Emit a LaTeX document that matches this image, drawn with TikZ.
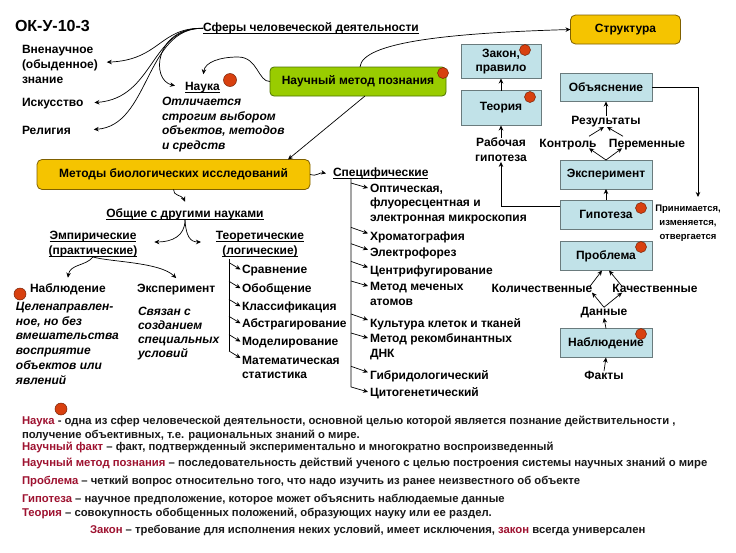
\documentclass[tikz,border=0pt]{standalone}
\usepackage{fontspec}
\setmainfont{Liberation Sans}
\usetikzlibrary{arrows.meta,calc}
\definecolor{grnfill}{HTML}{99CC00}
\definecolor{grnline}{HTML}{4D7300}
\definecolor{orfill}{HTML}{F5C400}
\definecolor{orline}{HTML}{7F6000}
\definecolor{bluefill}{HTML}{C1E2E8}
\definecolor{blueline}{HTML}{6A7B7D}
\definecolor{dotred}{HTML}{D8400F}
\definecolor{termred}{HTML}{9E1230}
\newcommand{\trm}[1]{\textcolor{termred}{#1}}
\newcommand{\ulin}[1]{\leavevmode\setbox0\hbox{#1}\rlap{\rule[-2.6pt]{\wd0}{0.8pt}}\box0}
\begin{document}
\begin{tikzpicture}[x=1pt,y=-1pt,
  every node/.style={inner sep=0pt, outer sep=0pt},
  lbl/.style={font=\bfseries\fontsize{12}{15}\selectfont, align=left},
  clbl/.style={font=\bfseries\fontsize{12}{15}\selectfont, align=center},
  ital/.style={font=\bfseries\itshape\fontsize{12}{14.8}\selectfont, align=left},
  box/.style={draw, line width=0.8pt, font=\bfseries\fontsize{12}{14}\selectfont, align=center},
  bluebox/.style={box, draw=blueline, fill=bluefill, minimum width=92pt, minimum height=29pt},
  orbox/.style={box, draw=orline, fill=orfill, rounded corners=5pt},
  arr/.style={-{Stealth[length=5pt,width=4.5pt]}, line width=0.7pt},
  ln/.style={line width=0.7pt},
  dot/.style={circle, fill=dotred, draw=dotred!55!black, line width=0.5pt, minimum size=11pt},
  defn/.style={font=\bfseries\fontsize{11.3}{13}\selectfont, anchor=base west, text=black!90}
]
\fill[white] (0,0) rectangle (736,552);
\useasboundingbox (0,0) rectangle (736,552);

% ---------- top left ----------
\node[font=\bfseries\fontsize{16}{18}\selectfont, anchor=base west] (title) at (15,31) {ОК-У-10-3};
\node[lbl, anchor=base] (sf) at (311,31.5) {\ulin{Сферы человеческой деятельности}};
\node[lbl, anchor=north west] (vn) at (22,45) {Вненаучное\\(обыденное)\\знание};
\node[lbl, anchor=base west] (isk) at (22,106.5) {Искусство};
\node[lbl, anchor=base west] (rel) at (22,134.5) {Религия};
\node[lbl, anchor=base west] (nauka) at (185,90.5) {\ulin{Наука}};
\node[dot, minimum size=13pt] (d0) at (230,80) {};
\node[ital, anchor=north west] (otl) at (162,97) {Отличается\\строгим выбором\\объектов, методов\\и средств};

\draw[arr] (sf.west) .. controls (160,27) and (160,60) .. ($(vn.east)+(9,-2)$);
\draw[arr] (sf.west) .. controls (150,27) and (155,98) .. ($(isk.east)+(11,-1)$);
\draw[arr] (sf.west) .. controls (145,27) and (150,126) .. ($(rel.east)+(23,-1)$);
\draw[arr] (sf.west) .. controls (155,27) and (150,80) .. ($(nauka.west)+(-10,-2)$);

% ---------- green box ----------
\node[box, draw=grnline, fill=grnfill, rounded corners=4pt, minimum width=176pt, minimum height=29pt] (grn) at (358,81.5) {Научный метод познания};
\node[dot] (d1) at (443,73) {};
\node[orbox, minimum width=110pt, minimum height=29pt] (str) at (625.5,29.5) {Структура};
\node[orbox, minimum width=273pt, minimum height=30pt] (meth) at (173.5,174.5) {Методы биологических исследований};

\draw[arr] (grn.west) .. controls (258,82) and (258,57) .. (238,57) .. controls (220,57) and (205,62) .. ($(nauka.north)+(1,-8)$);
\draw[arr] ($(grn.north)+(2,0)$) .. controls (362,42) and (450,33) .. (str.west);
\draw[arr] ($(grn.south)+(7,0)$) -- ($(meth.north east)+(-22,0)$);

% ---------- right column ----------
\node[bluebox, minimum width=80pt, minimum height=34pt] (zak) at (501,61.5) {Закон,\\правило};
\node[dot] (d2) at (525,50) {};
\node[bluebox, minimum width=80pt, minimum height=35pt] (teo) at (501,108) {Теория};
\node[dot] (d3) at (530,97) {};
\node[bluebox, minimum height=28pt] (obj) at (606,87.5) {Объяснение};
\node[bluebox] (exp) at (606,174.5) {Эксперимент};
\node[bluebox] (gip) at (606,214.5) {Гипотеза};
\node[dot] (d4) at (641,208) {};
\node[bluebox] (prob) at (606,256) {Проблема};
\node[dot] (d5) at (641,247) {};
\node[bluebox] (nabl) at (606,343) {Наблюдение};
\node[dot] (d6) at (641,334) {};

\node[clbl, anchor=north] (rg) at (501,138) {Рабочая\\гипотеза};
\node[clbl, anchor=base] (res) at (606,124.5) {Результаты};
\node[clbl, anchor=base] (ktr) at (568,147.5) {Контроль};
\node[clbl, anchor=base] (per) at (647,147.5) {Переменные};
\node[font=\bfseries\fontsize{9.5}{14}\selectfont, align=center, anchor=north] (prin) at (688,205) {Принимается,\\изменяется,\\отвергается};
\coordinate (pa) at (698,197);
\node[clbl, anchor=base] (kol) at (542,292.5) {Количественные};
\node[clbl, anchor=base] (kach) at (655,292.5) {Качественные};
\node[clbl, anchor=base] (dan) at (604,315.5) {Данные};
\node[clbl, anchor=base] (fak) at (604,379.5) {Факты};

\draw[arr] (teo.north) -- (zak.south);
\draw[arr] (rg.north) -- (teo.south);
\draw[arr] ([yshift=8pt]gip.west) -| (rg.south);
\draw[arr] (obj.east) -| (pa);
\draw[arr] (gip.north) -- (exp.south);
\draw[arr] (exp.north) -- ($(ktr.north)+(21,9)$);
\draw[arr] (exp.north) -- ($(per.north)+(-25,9)$);
\draw[arr] ($(ktr.north)+(21,-3)$) -- ($(res.south)+(-2,0)$);
\draw[arr] ($(per.north)+(-24,-3)$) -- ($(res.south)+(1,0)$);
\draw[arr] (res.north) -- (obj.south);
\draw[arr] (nabl.north) -- (dan.south);
\draw[arr] (dan.north) -- ($(kol.south)+(50,0)$);
\draw[arr] (dan.north) -- ($(kach.south)+(-33,0)$);
\draw[arr] ($(kol.north)+(48,2)$) -- ($(prob.south)+(-4,0)$);
\draw[arr] ($(kach.north)+(-33,2)$) -- ($(prob.south)+(3,0)$);
\draw[arr] (fak.north) -- (nabl.south);

% ---------- methods tree ----------
\node[lbl, anchor=base] (obs) at (185,217.5) {\ulin{Общие с другими науками}};
\node[clbl, anchor=north] (emp) at (93,231) {\ulin{Эмпирические}\\\ulin{(практические)}};
\node[clbl, anchor=north] (teor) at (260,231) {\ulin{Теоретические}\\\ulin{(логические)}};
\node[lbl, anchor=base west] (spec) at (333,176.5) {\ulin{Специфические}};

\draw[arr] (meth.south) .. controls (173,196) and (182,195) .. ($(obs.north)+(0,-7)$);
\draw[arr] (meth.east) .. controls (316,177) and (320,172) .. ($(spec.west)+(-7,0)$);
\draw[arr] (obs.south) .. controls (185,236) and (172,242) .. ($(emp.north east)+(17,11)$);
\draw[arr] (obs.south) .. controls (186,236) and (190,242) .. ($(teor.north west)+(-15,11)$);

\node[lbl, anchor=base west] (nab) at (30,292.5) {Наблюдение};
\node[dot, minimum size=12pt] (d7) at (20,294) {};
\node[lbl, anchor=base west] (eks) at (137,292.5) {Эксперимент};
\node[ital, anchor=north west] (nabt) at (16,302) {Целенаправлен-\\ное, но без\\вмешательства\\восприятие\\объектов или\\явлений};
\node[ital, anchor=north west, font=\bfseries\itshape\fontsize{12}{14}\selectfont] (ekst) at (138,307) {Связан с\\созданием\\специальных\\условий};

\draw[arr] (emp.south) .. controls (86,266) and (70,264) .. ($(nab.north)+(0,-6)$);
\draw[arr] (emp.south) .. controls (110,262) and (160,262) .. ($(eks.north)+(0,-6)$);

% theoretical list
\node[lbl, anchor=base west] (t1) at (242,273.5) {Сравнение};
\node[lbl, anchor=base west] (t2) at (242,292.5) {Обобщение};
\node[lbl, anchor=base west] (t3) at (242,310.5) {Классификация};
\node[lbl, anchor=base west] (t4) at (242,327.5) {Абстрагирование};
\node[lbl, anchor=base west] (t5) at (242,345.5) {Моделирование};
\node[lbl, anchor=north west, font=\bfseries\fontsize{12}{14}\selectfont] (t6) at (242,356) {Математическая\\статистика};
\coordinate (tv0) at ($(t1.west |- teor.south)+(-13,2)$);
\draw[ln] (tv0) -- ($(t6.north west)+(-13,-5)$);
\foreach \t in {t1,t2,t3,t4,t5}{
  \draw[arr] ($(\t.west)+(-13,-8)$) -- ($(\t.west)+(-1.5,-1)$);
}
\draw[arr] ($(t6.north west)+(-13,-5)$) -- ($(t6.north west)+(-1.5,2)$);

% specific list
\node[lbl, anchor=north west, font=\bfseries\fontsize{12}{14.5}\selectfont] (s1) at (370,184) {Оптическая,\\флуоресцентная и\\электронная микроскопия};
\node[lbl, anchor=base west] (s2) at (370,240.5) {Хроматография};
\node[lbl, anchor=base west] (s3) at (370,256.8) {Электрофорез};
\node[lbl, anchor=base west] (s4) at (370,274.5) {Центрифугирование};
\node[lbl, anchor=north west] (s5) at (370,282) {Метод меченых\\атомов};
\node[lbl, anchor=base west] (s6) at (370,327.2) {Культура клеток и тканей};
\node[lbl, anchor=north west, font=\bfseries\fontsize{12}{14.3}\selectfont] (s7) at (370,334) {Метод рекомбинантных\\ДНК};
\node[lbl, anchor=base west] (s8) at (370,379.5) {Гибридологический};
\node[lbl, anchor=base west] (s9) at (370,396.2) {Цитогенетический};
\coordinate (sv0) at ($(spec.south west)+(18,0)$);
\draw[arr] (sv0) -- ($(s9.west)+(-19,-6)$) -- ($(s9.west)+(-2,-1)$);
\foreach \s in {s1,s5,s7}{
  \draw[arr] ($(\s.north west)+(-19,-1)$) -- ($(\s.north west)+(-2,4)$);
}
\foreach \s in {s2,s3,s4,s6,s8}{
  \draw[arr] ($(\s.west)+(-19,-10)$) -- ($(\s.west)+(-2,-4)$);
}

% ---------- definitions ----------
\node[dot, minimum size=12pt] (d8) at (61,409) {};
\node[defn] (df1) at (22,424.7) {\trm{Наука} -  одна из сфер человеческой деятельности, основной целью которой является познание действительности ,};
\node[defn] (df2) at (22,438) {получение объективных, т.е. рациональных знаний о мире.};
\node[defn] (df3) at (22,450.7) {\trm{Научный факт} – факт, подтвержденный экспериментально и многократно воспроизведенный};
\node[defn] (df4) at (22,466.7) {\trm{Научный метод познания} – последовательность действий ученого с целью построения системы научных знаний о мире};
\node[defn] (df5) at (22,484.7) {\trm{Проблема} – четкий вопрос относительно того, что надо изучить из ранее неизвестного об объекте};
\node[defn] (df6) at (22,502) {\trm{Гипотеза} – научное предположение, которое может объяснить наблюдаемые данные};
\node[defn] (df7) at (22,516.7) {\trm{Теория} – совокупность обобщенных положений, образующих науку или ее раздел.};
\node[defn] (df8) at (90,533) {\trm{Закон} – требование для исполнения неких условий, имеет исключения, \trm{закон} всегда универсален};
\end{tikzpicture}
\end{document}
